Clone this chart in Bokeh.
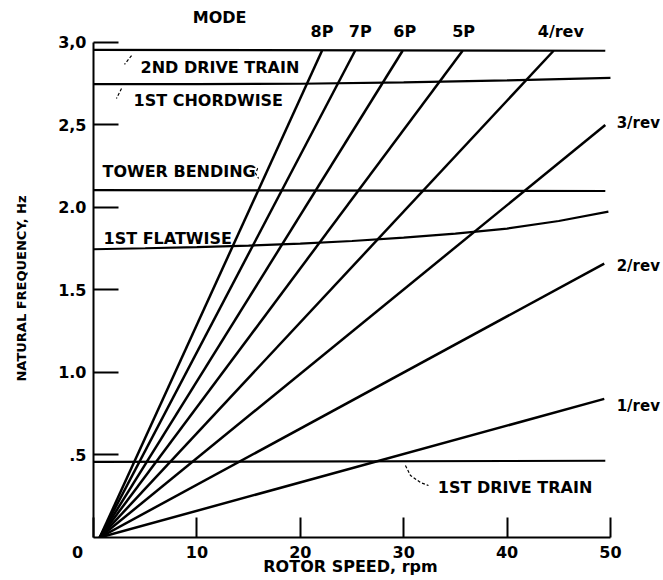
from bokeh.plotting import figure
from bokeh.models import Range1d, FixedTicker, ColumnDataSource
from bokeh.core.properties import value
from bokeh.embed import file_html
from bokeh.resources import INLINE

# ---- data ----
rev_names = ["8P", "7P", "6P", "5P", "4/rev", "3/rev", "2/rev", "1/rev"]
rev_start_rpm = [0.6, 0.6, 0.6, 0.6, 0.6, 0.6, 0.6, 0.6]
rev_start_hz = [0.0, 0.0, 0.0, 0.0, 0.0, 0.0, 0.0, 0.0]
rev_end_rpm = [22.1, 25.3, 29.9, 35.7, 44.5, 49.5, 49.4, 49.4]
rev_end_hz = [2.95, 2.95, 2.95, 2.95, 2.95, 2.50, 1.66, 0.84]

drive2_rpm = [0.0, 49.5]
drive2_hz = [2.955, 2.95]
chord1_rpm = [0, 10, 20, 30, 40, 50]
chord1_hz = [2.748, 2.748, 2.75, 2.758, 2.77, 2.786]
tower_rpm = [0.0, 49.5]
tower_hz = [2.105, 2.10]
flap1_rpm = [0, 5, 10, 15, 20, 25, 30, 35, 40, 45, 49.8]
flap1_hz = [1.747, 1.753, 1.760, 1.769, 1.781, 1.797, 1.817, 1.842, 1.872, 1.918, 1.975]
drive1_rpm = [0.0, 49.5]
drive1_hz = [0.458, 0.465]

x_ticks = [0, 10, 20, 30, 40, 50]
x_tick_labels = ["0\u2003\u2003", "10", "20", "30", "40", "50"]
y_ticks = [0.5, 1.0, 1.5, 2.0, 2.5, 3.0]
y_tick_labels = [".5", "1.0", "1.5", "2.0", "2,5", "3,0"]

FONT = value("DejaVu Sans")

p = figure(width=663, height=580, output_backend="svg", toolbar_location=None,
           x_range=Range1d(0, 55.13), y_range=Range1d(0, 3.2545),
           min_border_left=93, min_border_right=0, min_border_top=0,
           min_border_bottom=43)
p.outline_line_color = None
p.grid.visible = False
p.background_fill_color = "white"
p.border_fill_color = "white"

# axes
xa = p.xaxis[0]
xa.ticker = FixedTicker(ticks=x_ticks)
xa.major_label_overrides = dict(zip(x_ticks, x_tick_labels))
xa.bounds = (0, 50)
xa.minor_tick_line_color = None
xa.major_tick_in = 20
xa.major_tick_out = 0
xa.major_tick_line_width = 2
xa.axis_line_width = 2
xa.major_label_standoff = 5
xa.major_label_text_font = "DejaVu Sans"
xa.major_label_text_font_size = "16px"
xa.major_label_text_font_style = "bold"
xa.major_label_text_color = "black"
xa.axis_label = "ROTOR SPEED, rpm\u2003\u2003\u2003\u2002"
xa.axis_label_text_font = "DejaVu Sans"
xa.axis_label_text_font_style = "bold"
xa.axis_label_text_font_size = "16px"
xa.axis_label_text_color = "black"
xa.axis_label_standoff = -8

ya = p.yaxis[0]
ya.ticker = FixedTicker(ticks=y_ticks)
ya.major_label_overrides = dict(zip(y_ticks, y_tick_labels))
ya.bounds = (0, 3.0)
ya.minor_tick_line_color = None
ya.major_tick_in = 25
ya.major_tick_out = 0
ya.major_tick_line_width = 2
ya.axis_line_width = 2
ya.major_label_standoff = 7
ya.major_label_text_font = "DejaVu Sans"
ya.major_label_text_font_size = "16px"
ya.major_label_text_font_style = "bold"
ya.major_label_text_color = "black"
ya.axis_label = "NATURAL FREQUENCY, Hz\u2003\u2003\u2003"
ya.axis_label_text_font = "DejaVu Sans"
ya.axis_label_text_font_style = "bold"
ya.axis_label_text_font_size = "13px"
ya.axis_label_text_color = "black"
ya.axis_label_standoff = 26

# per-rev lines
src = ColumnDataSource(dict(x0=rev_start_rpm, y0=rev_start_hz,
                            x1=rev_end_rpm, y1=rev_end_hz, name=rev_names))
p.segment(x0="x0", y0="y0", x1="x1", y1="y1", source=src,
          line_color="black", line_width=2.5)

# mode lines
for xs, ys in [(drive2_rpm, drive2_hz), (chord1_rpm, chord1_hz),
               (tower_rpm, tower_hz), (flap1_rpm, flap1_hz),
               (drive1_rpm, drive1_hz)]:
    p.line(xs, ys, line_color="black", line_width=2.2)

# per-rev labels
top_lab_x = [22.1, 25.8, 30.1, 35.8, 45.2]
p.text(x=top_lab_x, y=[3.067] * 5, text=rev_names[:5], text_font=FONT,
       text_font_size="16px", text_font_style="bold", text_align="center",
       text_baseline="middle", text_color="black")
p.text(x=[50.6] * 3, y=[2.515, 1.648, 0.794], text=rev_names[5:],
       text_font=FONT, text_font_size="15px", text_font_style="bold",
       text_align="left", text_baseline="middle", text_color="black")

p.text(x=[12.2], y=[3.15], text=["MODE"], text_font=FONT, text_font_size="16px",
       text_font_style="bold", text_align="center", text_baseline="middle",
       text_color="black")

# mode labels
p.text(x=[4.55, 3.87, 0.87, 0.97, 33.3],
       y=[2.848, 2.648, 2.218, 1.812, 0.303],
       text=["2ND DRIVE TRAIN", "1ST CHORDWISE", "TOWER  BENDING",
             "1ST FLATWISE", "1ST DRIVE TRAIN"],
       text_font=FONT, text_font_size="16px", text_font_style="bold",
       text_align="left", text_baseline="middle", text_color="black")

# leaders
leaders = [
    ([3.68, 3.0], [2.921, 2.867]),
    ([2.71, 2.22], [2.721, 2.661]),
    ([15.38, 15.87, 15.67, 15.97], [2.248, 2.236, 2.206, 2.176]),
    ([30.17, 30.66, 31.63, 32.4], [0.436, 0.376, 0.333, 0.315]),
]
for xs, ys in leaders:
    p.line(xs, ys, line_color="black", line_width=1.2, line_dash="3 2")

open("out.html", "w").write(file_html(p, INLINE))
